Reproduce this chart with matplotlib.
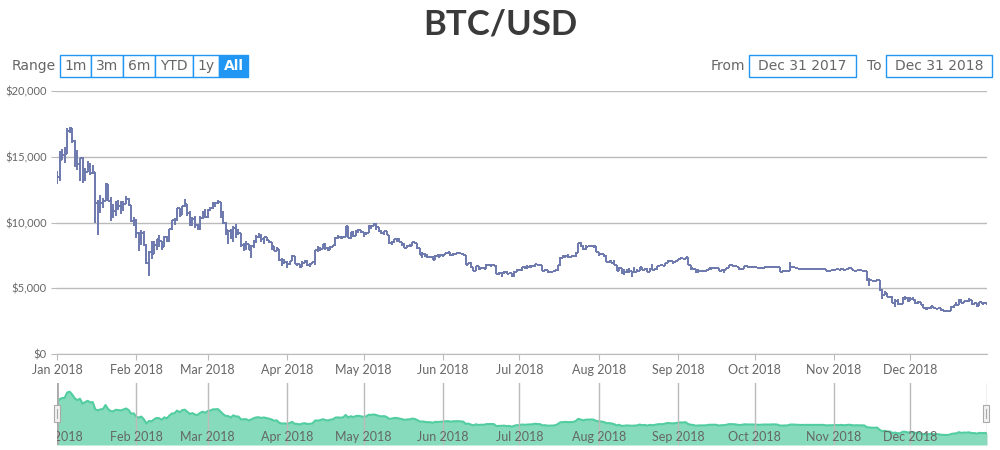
import numpy as np
import pandas as pd
import matplotlib
matplotlib.use("Agg")
import matplotlib.pyplot as plt
import matplotlib.dates as mdates
from matplotlib.patches import Rectangle
from matplotlib.ticker import FuncFormatter, MultipleLocator

plt.rcParams['font.family'] = ['Lato', 'DejaVu Sans']

# BTC/USD daily prices for 2018, one row per month
first_open = 13850
close = [
    13444, 14754, 15156, 15180, 16954, 17172, 16228, 14976, 14468, 14919, 13309, 13842, 14244, 13773, 13820, 11490, 11188, 11474, 11607, 12899, 11600, 10931, 10868, 11359, 11259, 11171, 11441, 11787, 11306, 10106, 10221,
    9170, 8830, 9175, 8277, 6955, 7754, 7621, 8265, 8736, 8621, 8129, 8926, 8598, 9494, 10166, 10233, 11112, 10551, 11225, 11403, 10690, 10005, 10301, 9813, 9664, 10366, 10725, 10397,
    10951, 11086, 11489, 11512, 11573, 10779, 9965, 9395, 9337, 8866, 9578, 9205, 9194, 8269, 8300, 8338, 7916, 8223, 8630, 8913, 8929, 8729, 8880, 8668, 8495, 8209, 7834, 7954, 7165, 6891, 6973,
    6845, 7083, 7456, 6853, 6811, 6636, 6911, 7023, 6770, 6834, 6968, 7889, 7895, 7986, 8329, 8058, 7902, 8163, 8294, 8845, 8895, 8802, 8930, 9697, 8845, 9281, 8987, 9348, 9419, 9240,
    9119, 9235, 9743, 9700, 9858, 9654, 9373, 9234, 9325, 9043, 8441, 8504, 8723, 8716, 8510, 8368, 8094, 8250, 8248, 8513, 8418, 8041, 7557, 7587, 7480, 7355, 7368, 7135, 7472, 7406, 7494,
    7541, 7643, 7720, 7514, 7633, 7653, 7678, 7624, 7531, 6786, 6906, 6582, 6349, 6675, 6456, 6550, 6499, 6734, 6769, 6776, 6729, 6083, 6162, 6173, 6249, 6093, 6157, 5903, 6218, 6404,
    6385, 6614, 6529, 6597, 6639, 6673, 6857, 6773, 6741, 6329, 6394, 6228, 6238, 6276, 6359, 6742, 7321, 7370, 7466, 7355, 7419, 7418, 7711, 8424, 8181, 7951, 8166, 8193, 8218, 8181, 7780,
    7625, 7567, 7434, 7032, 7068, 6951, 6753, 6306, 6529, 6144, 6232, 6309, 6275, 6200, 6269, 6300, 6583, 6387, 6476, 6258, 6486, 6377, 6487, 6681, 6735, 6707, 6884, 7096, 7047, 6978, 7037,
    7193, 7272, 7260, 7361, 6792, 6529, 6467, 6225, 6300, 6329, 6321, 6351, 6517, 6512, 6543, 6517, 6281, 6371, 6398, 6519, 6734, 6721, 6711, 6595, 6446, 6495, 6676, 6644, 6601, 6625,
    6589, 6556, 6502, 6576, 6622, 6588, 6602, 6652, 6642, 6585, 6257, 6295, 6300, 6329, 6597, 6596, 6544, 6476, 6465, 6489, 6482, 6487, 6476, 6495, 6476, 6474, 6480, 6486, 6332, 6334, 6371,
    6410, 6433, 6388, 6488, 6377, 6434, 6539, 6409, 6339, 6372, 6359, 6347, 6307, 5738, 5648, 5575, 5554, 5623, 4871, 4451, 4602, 4365, 4347, 3880, 4009, 3779, 3820, 4257, 4278, 4017,
    4214, 4139, 3894, 3956, 3753, 3521, 3419, 3476, 3614, 3502, 3424, 3486, 3313, 3242, 3236, 3252, 3545, 3696, 3745, 4134, 3896, 4014, 3998, 4078, 3815, 3857, 3654, 3923, 3821, 3913, 3742,
]
high = [
    13921, 15444, 15572, 15739, 17176, 17253, 17148, 16304, 15498, 14922, 14979, 14109, 14659, 14511, 14356, 13843, 11679, 12107, 11842, 13031, 12899, 11905, 11373, 11612, 11721, 11644, 11663, 12040, 11855, 11306, 10389,
    10288, 9242, 9430, 9334, 8364, 7850, 8559, 8558, 8739, 9066, 8622, 8985, 8958, 9518, 10219, 10324, 11139, 11075, 11274, 11786, 11299, 10882, 10412, 10502, 9860, 10475, 10871, 11062,
    11039, 11190, 11528, 11540, 11690, 11574, 10899, 10018, 9466, 9531, 9717, 9889, 9483, 9223, 8449, 8604, 8346, 8261, 8683, 9051, 9177, 9100, 8896, 8919, 8682, 8528, 8213, 8109, 7994, 7274, 7223,
    7050, 7095, 7511, 7469, 6933, 6857, 7049, 7111, 7179, 6892, 6984, 7938, 8183, 8140, 8338, 8411, 8168, 8204, 8294, 8919, 9035, 9001, 8978, 9732, 9759, 9307, 9339, 9432, 9512, 9422,
    9255, 9263, 9773, 9746, 9964, 9940, 9655, 9446, 9367, 9382, 9024, 8627, 8770, 8856, 8847, 8510, 8462, 8261, 8394, 8550, 8541, 8402, 8030, 7734, 7659, 7591, 7410, 7437, 7531, 7573, 7604,
    7590, 7699, 7753, 7754, 7652, 7701, 7754, 7682, 7681, 7532, 6941, 6970, 6616, 6711, 6681, 6587, 6590, 6808, 6822, 6799, 6808, 6751, 6236, 6245, 6334, 6290, 6188, 6170, 6283, 6465,
    6432, 6648, 6681, 6773, 6733, 6735, 6863, 6868, 6795, 6752, 6434, 6395, 6330, 6300, 6390, 6761, 7408, 7534, 7560, 7613, 7438, 7547, 7759, 8462, 8488, 8287, 8275, 8235, 8281, 8269, 8194,
    7750, 7718, 7565, 7495, 7089, 7151, 7149, 6801, 6629, 6560, 6486, 6429, 6550, 6262, 6629, 6476, 6579, 6589, 6536, 6530, 6514, 6882, 6536, 6726, 6806, 6757, 6910, 7130, 7109, 7062, 7072,
    7228, 7320, 7338, 7388, 7398, 6797, 6535, 6479, 6430, 6403, 6389, 6364, 6536, 6596, 6565, 6552, 6536, 6387, 6462, 6543, 6766, 6844, 6771, 6719, 6597, 6553, 6687, 6796, 6662, 6656,
    6654, 6626, 6575, 6601, 6658, 6634, 6616, 6702, 6674, 6665, 6591, 6353, 6334, 6384, 6965, 6668, 6598, 6570, 6504, 6516, 6553, 6518, 6501, 6522, 6509, 6498, 6519, 6506, 6493, 6365, 6397,
    6438, 6459, 6443, 6551, 6492, 6476, 6601, 6542, 6411, 6404, 6394, 6407, 6392, 6348, 5810, 5660, 5595, 5672, 5623, 4934, 4813, 4616, 4412, 4413, 4148, 4213, 3879, 4322, 4415, 4310,
    4309, 4301, 4147, 4050, 3965, 3829, 3556, 3566, 3686, 3685, 3513, 3519, 3495, 3312, 3275, 3305, 3646, 3704, 3937, 4157, 4198, 4019, 4082, 4237, 4071, 3893, 3857, 3956, 3963, 3951, 3921,
]
low = [
    12890, 13154, 14844, 14522, 15184, 16792, 16043, 14208, 14009, 13131, 13031, 13154, 13956, 13594, 13657, 9950, 9050, 10739, 11075, 11601, 11600, 10130, 10306, 10513, 10950, 10620, 10894, 11400, 11237, 10036, 9700,
    8812, 7796, 8251, 8216, 6882, 5950, 7236, 7637, 7931, 8163, 7931, 8129, 8484, 8533, 9401, 9824, 10139, 10395, 10551, 11180, 10500, 9760, 9740, 9545, 9407, 9411, 10253, 10314,
    10352, 10850, 11054, 11192, 11431, 10351, 9861, 9084, 8391, 8727, 8510, 8820, 9046, 8151, 7807, 7916, 7899, 7323, 8093, 8458, 8837, 8497, 8359, 8582, 8423, 7881, 7809, 7831, 7081, 6683, 6863,
    6526, 6765, 7071, 6833, 6683, 6575, 6616, 6920, 6661, 6646, 6819, 6764, 7759, 7846, 7978, 7919, 7826, 7895, 8142, 8233, 8745, 8738, 8829, 8969, 8800, 8746, 8905, 8954, 9183, 9170,
    8870, 9034, 9212, 9532, 9704, 9462, 9263, 9163, 9034, 9019, 8363, 8262, 8456, 8504, 8495, 8226, 8076, 8054, 8164, 8248, 8395, 8017, 7509, 7315, 7342, 7331, 7268, 7127, 7112, 7382, 7405,
    7395, 7526, 7630, 7468, 7430, 7512, 7652, 7572, 7525, 6734, 6749, 6567, 6293, 6320, 6421, 6445, 6499, 6456, 6710, 6638, 6711, 6051, 6022, 5827, 6118, 6084, 6063, 5863, 5836, 6218,
    6305, 6343, 6484, 6479, 6542, 6583, 6621, 6745, 6693, 6311, 6324, 6129, 6199, 6222, 6255, 6341, 6661, 7282, 7283, 7285, 7289, 7397, 7411, 7683, 8128, 7902, 7880, 8111, 8119, 8095, 7788,
    7465, 7552, 7409, 7002, 6937, 6909, 6743, 6285, 6286, 6101, 6030, 6181, 6145, 5880, 6183, 6237, 6287, 6390, 6400, 6271, 6240, 6358, 6367, 6405, 6685, 6656, 6681, 6897, 6991, 6851, 6931,
    7037, 7146, 7214, 7237, 6750, 6375, 6414, 6196, 6178, 6281, 6268, 6262, 6366, 6402, 6470, 6446, 6277, 6256, 6142, 6379, 6521, 6682, 6666, 6584, 6414, 6393, 6445, 6592, 6531, 6551,
    6555, 6510, 6472, 6496, 6563, 6560, 6557, 6590, 6601, 6547, 6225, 6233, 6271, 6283, 6325, 6552, 6523, 6441, 6446, 6459, 6463, 6450, 6447, 6468, 6469, 6456, 6472, 6467, 6314, 6310, 6329,
    6346, 6399, 6352, 6371, 6347, 6379, 6434, 6394, 6325, 6344, 6292, 6313, 6283, 5555, 5185, 5558, 5522, 5559, 4790, 4187, 4456, 4357, 4229, 3853, 3585, 3707, 3703, 3820, 4131, 3964,
    3998, 4106, 3840, 3828, 3726, 3484, 3315, 3402, 3454, 3463, 3409, 3420, 3301, 3216, 3191, 3212, 3252, 3532, 3645, 3719, 3885, 3857, 3938, 3920, 3755, 3754, 3587, 3634, 3809, 3781, 3700,
]

title = "BTC/USD"
range_labels = ["1m", "3m", "6m", "YTD", "1y", "All"]
range_selected = "All"
from_text = "Dec 31 2017"
to_text = "Dec 31 2018"

assert len(close) == len(high) == len(low) == 365

dates = pd.date_range("2018-01-01", periods=len(close), freq="D")
x = mdates.date2num(dates)
opens = [first_open] + close[:-1]
hi = np.maximum.reduce([np.array(high), np.array(opens), np.array(close)])
lo = np.minimum.reduce([np.array(low), np.array(opens), np.array(close)])

W, H = 1000, 450
ohlc_color = '#6D78AD'
nav_color = '#51CDA0'
grid_color = '#BBBBBB'
label_color = '#666666'
blue = '#2196F3'

fig = plt.figure(figsize=(W / 100, H / 100), dpi=100)


def fig_box(x0, y0, x1, y1):
    # pixel box (top-left origin) -> figure fraction rect
    return [x0 / W, 1 - y1 / H, (x1 - x0) / W, (y1 - y0) / H]


# main OHLC chart
ax = fig.add_axes(fig_box(57, 91, 987, 354))
lw = 1.4
ax.vlines(x, lo, hi, color=ohlc_color, lw=lw)
ax.hlines(opens, x - 0.5, x, color=ohlc_color, lw=lw)
ax.hlines(close, x, x + 0.5, color=ohlc_color, lw=lw)
ax.set_xlim(x[0], x[-1])
ax.set_ylim(0, 20000)

for side in ['top', 'right', 'left']:
    ax.spines[side].set_visible(False)
ax.spines['bottom'].set_color(grid_color)
ax.yaxis.set_major_locator(MultipleLocator(5000))
ax.yaxis.set_major_formatter(FuncFormatter(lambda v, p: f"${v:,.0f}"))
ax.grid(axis='y', color=grid_color, lw=1)
ax.set_axisbelow(True)
ax.tick_params(axis='y', length=4.5, color=grid_color, labelcolor=label_color, labelsize=8, pad=3)
ax.xaxis.set_major_locator(mdates.MonthLocator())
ax.xaxis.set_major_formatter(mdates.DateFormatter("%b %Y"))
ax.tick_params(axis='x', length=4, color=grid_color, labelcolor=label_color, labelsize=9, pad=3)

# navigator
nav = fig.add_axes(fig_box(57, 383, 987, 445))
nav.fill_between(x, close, color=nav_color, alpha=0.7, lw=0)
nav.plot(x, close, color=nav_color, lw=1.5)
nav.set_xlim(x[0], x[-1])
nav.set_ylim(0, 20000)
for s in nav.spines.values():
    s.set_visible(False)
nav.set_xticks([])
nav.set_yticks([])
month_starts = mdates.date2num(pd.date_range("2018-01-01", "2018-12-01", freq="MS"))
for m in month_starts:
    nav.axvline(m, color=grid_color, lw=1)
    nav.text(m, 0.07, mdates.num2date(m).strftime("%b %Y"), transform=nav.get_xaxis_transform(),
             ha='center', va='baseline', fontsize=9, color=label_color, clip_on=True)
nav.axvline(x[0], color='#AAAAAA', lw=2)
nav.axvline(x[-1], color='#BBBBBB', lw=1)

# navigator handles
for hx in (54, 983):
    fig.patches.append(Rectangle(fig_box(hx, 405, hx + 6, 422)[:2], 6 / W, 17 / H, transform=fig.transFigure,
                                 facecolor='#F2F2F2', edgecolor='#AAAAAA', lw=0.8))
    fig.lines.append(plt.Line2D([(hx + 3) / W] * 2, [1 - 418 / H, 1 - 409 / H], transform=fig.transFigure,
                                color='#AAAAAA', lw=0.8))

# title
fig.text(0.5, 1 - 25 / H, title, ha='center', va='center', fontsize=25, fontweight='bold', color='#3A3A3A')

# range selector
ctrl_font = dict(family='DejaVu Sans', fontsize=10)
fig.text(12 / W, 1 - 66 / H, "Range", ha='left', va='center', color=label_color, **ctrl_font)
edges = [60, 91, 123, 155, 193, 219, 248]
for lab, x0, x1 in zip(range_labels, edges[:-1], edges[1:]):
    sel = lab == range_selected
    fig.patches.append(Rectangle(fig_box(x0, 55, x1, 77)[:2], (x1 - x0) / W, 22 / H, transform=fig.transFigure,
                                 facecolor=blue if sel else 'white', edgecolor=blue, lw=1))
    fig.text((x0 + x1) / 2 / W, 1 - 66 / H, lab, ha='center', va='center',
             color='white' if sel else label_color, fontweight='bold' if sel else 'normal', **ctrl_font)

# from / to inputs
fig.text(745 / W, 1 - 66 / H, "From", ha='right', va='center', color=label_color, **ctrl_font)
fig.text(882 / W, 1 - 66 / H, "To", ha='right', va='center', color=label_color, **ctrl_font)
for txt, x0, x1 in ((from_text, 749, 856), (to_text, 886, 992)):
    fig.patches.append(Rectangle(fig_box(x0, 55, x1, 77)[:2], (x1 - x0) / W, 22 / H, transform=fig.transFigure,
                                 facecolor='white', edgecolor=blue, lw=1))
    fig.text((x0 + x1) / 2 / W, 1 - 66 / H, txt, ha='center', va='center', color=label_color, **ctrl_font)

fig.savefig("out.png", dpi=100)
